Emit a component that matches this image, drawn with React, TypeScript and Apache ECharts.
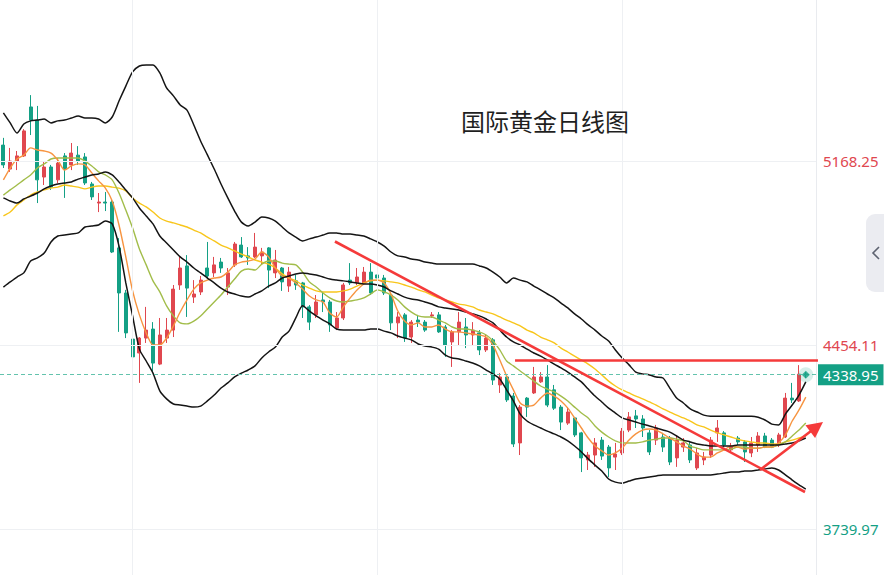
import React, { useEffect, useRef } from 'react';
import * as echarts from 'echarts';

// ---------- data ----------
const categories: string[] = Array.from({ length: 120 }, (_, i) => `D${i + 1}`);

const opens = [
  5230, 5137, 5168, 5188, 5378, 5327, 5106, 5145, 5095, 5188,
  5153, 5191, 5184, 5079, 5005, 5009, 5009, 4831, 4656, 4477,
  4423, 4481, 4516, 4380, 4481, 4512, 4687, 4761, 4640, 4660,
  4753, 4734, 4776, 4679, 4765, 4842, 4800, 4796, 4800, 4831,
  4734, 4753, 4683, 4703, 4695, 4602, 4571, 4629, 4621, 4520,
  4559, 4706, 4695, 4695, 4737, 4726, 4714, 4648, 4540, 4571,
  4485, 4551, 4543, 4567, 4571, 4524, 4466, 4505, 4524, 4493,
  4501, 4435, 4474, 4299, 4330, 4256, 4074, 4248, 4268, 4311,
  4330, 4280, 4213, 4151, 4171, 4113, 4008, 4027, 4085, 4058,
  4019, 4035, 4124, 4179, 4167, 4113, 4085, 4097, 4093, 4016,
  4058, 4066, 3977, 4008, 4027, 4113, 4113, 4047, 4093, 4078,
  4035, 4066, 4101, 4085, 4074, 4097, 4248, 4237, 4341,
];
const closes = [
  5153, 5168, 5188, 5285, 5327, 5095, 5145, 5067, 5160, 5137,
  5199, 5168, 5083, 5029, 5009, 5005, 4815, 4656, 4501, 4408,
  4481, 4512, 4384, 4493, 4512, 4671, 4753, 4675, 4652, 4706,
  4722, 4765, 4753, 4734, 4846, 4796, 4792, 4834, 4815, 4745,
  4784, 4699, 4737, 4687, 4602, 4543, 4621, 4621, 4532, 4559,
  4687, 4695, 4718, 4737, 4656, 4714, 4656, 4540, 4563, 4481,
  4543, 4543, 4512, 4571, 4505, 4454, 4505, 4543, 4493, 4512,
  4435, 4481, 4318, 4330, 4241, 4070, 4213, 4213, 4330, 4330,
  4221, 4209, 4155, 4194, 4105, 4016, 4027, 4074, 4023, 3977,
  4031, 4120, 4175, 4167, 4132, 4039, 4132, 4058, 4000, 4085,
  4074, 4008, 4035, 4019, 4085, 4132, 4066, 4058, 4078, 4039,
  4074, 4101, 4058, 4058, 4105, 4248, 4241, 4341, 4338.95,
];
const lows = [
  5141, 5126, 5133, 5184, 5269, 5005, 5075, 5056, 5083, 5025,
  5133, 5153, 5075, 5017, 4970, 4974, 4811, 4505, 4481, 4097,
  4307, 4462, 4349, 4376, 4462, 4485, 4668, 4563, 4617, 4648,
  4714, 4718, 4734, 4648, 4757, 4792, 4765, 4792, 4765, 4675,
  4714, 4664, 4660, 4668, 4559, 4512, 4559, 4582, 4505, 4512,
  4551, 4687, 4687, 4687, 4648, 4695, 4648, 4512, 4481, 4466,
  4462, 4524, 4505, 4559, 4501, 4408, 4369, 4454, 4442, 4454,
  4415, 4427, 4299, 4268, 4233, 4058, 4027, 4175, 4264, 4307,
  4213, 4202, 4124, 4144, 4097, 3961, 3969, 3981, 4008, 3942,
  3969, 4027, 4116, 4132, 4097, 4027, 4066, 4039, 3988, 3981,
  4039, 3996, 3969, 3988, 4016, 4078, 4058, 4035, 4066, 4000,
  4019, 4039, 4054, 4054, 4058, 4093, 4229, 4233, 4326,
];
const highs = [
  5258, 5219, 5207, 5292, 5424, 5382, 5164, 5153, 5180, 5199,
  5238, 5226, 5199, 5087, 5044, 5048, 5017, 4869, 4668, 4485,
  4485, 4602, 4543, 4559, 4559, 4687, 4796, 4803, 4706, 4722,
  4854, 4796, 4792, 4753, 4854, 4873, 4834, 4889, 4831, 4834,
  4823, 4757, 4757, 4726, 4699, 4609, 4648, 4656, 4629, 4582,
  4695, 4772, 4753, 4757, 4772, 4734, 4726, 4656, 4582, 4578,
  4551, 4571, 4551, 4582, 4582, 4532, 4512, 4582, 4559, 4543,
  4512, 4493, 4481, 4345, 4338, 4268, 4221, 4252, 4369, 4349,
  4376, 4299, 4221, 4213, 4175, 4117, 4039, 4093, 4097, 4066,
  4074, 4132, 4194, 4202, 4182, 4124, 4144, 4113, 4101, 4105,
  4093, 4078, 4054, 4039, 4097, 4163, 4120, 4074, 4101, 4085,
  4097, 4116, 4113, 4093, 4113, 4268, 4307, 4376, 4349,
];

const bollUpper = [
  5355, 5316, 5277, 5312, 5324, 5327, 5331, 5316, 5324, 5327,
  5335, 5343, 5335, 5335, 5331, 5316, 5339, 5401, 5459, 5514,
  5537, 5541, 5541, 5510, 5452, 5421, 5386, 5366, 5308, 5246,
  5192, 5137, 5079, 5025, 4974, 4931, 4916, 4931, 4951, 4947,
  4935, 4912, 4889, 4873, 4858, 4866, 4873, 4881, 4889, 4889,
  4885, 4885, 4881, 4877, 4866, 4854, 4838, 4815, 4800, 4796,
  4788, 4784, 4776, 4772, 4768, 4768, 4768, 4768, 4768, 4768,
  4761, 4753, 4737, 4718, 4695, 4714, 4706, 4699, 4683, 4668,
  4652, 4637, 4617, 4598, 4575, 4555, 4532, 4512, 4489, 4470,
  4435, 4404, 4377, 4349, 4342, 4338, 4330, 4326, 4287, 4248,
  4229, 4206, 4194, 4182, 4178, 4178, 4178, 4178, 4178, 4178,
  4178, 4174, 4163, 4147, 4144, 4186, 4221, 4260, 4311,
];
const bollMid = [
  5025, 5013, 5005, 5021, 5032, 5044, 5060, 5071, 5079, 5083,
  5087, 5098, 5106, 5114, 5118, 5126, 5114, 5087, 5056, 5025,
  4986, 4955, 4924, 4877, 4850, 4823, 4796, 4776, 4753, 4734,
  4714, 4695, 4675, 4660, 4652, 4644, 4640, 4652, 4664, 4683,
  4695, 4714, 4722, 4730, 4734, 4730, 4726, 4718, 4710, 4706,
  4703, 4699, 4695, 4691, 4691, 4687, 4679, 4664, 4652, 4640,
  4633, 4629, 4621, 4613, 4602, 4598, 4594, 4590, 4582, 4575,
  4567, 4555, 4540, 4512, 4485, 4466, 4454, 4438, 4423, 4411,
  4396, 4380, 4365, 4349, 4330, 4311, 4283, 4256, 4233, 4209,
  4190, 4171, 4163, 4155, 4147, 4140, 4132, 4124, 4116, 4101,
  4085, 4078, 4070, 4066, 4062, 4062, 4062, 4062, 4066, 4066,
  4066, 4066, 4066, 4066, 4066, 4070, 4074, 4082, 4093,
];
const bollLower = [
  4679, 4699, 4718, 4734, 4780, 4792, 4811, 4854, 4877, 4881,
  4885, 4889, 4912, 4916, 4920, 4935, 4924, 4838, 4695, 4567,
  4438, 4392, 4345, 4276, 4245, 4225, 4221, 4217, 4213, 4217,
  4237, 4260, 4287, 4307, 4330, 4345, 4357, 4373, 4404, 4427,
  4446, 4485, 4508, 4559, 4606, 4586, 4567, 4551, 4536, 4516,
  4512, 4512, 4512, 4512, 4516, 4516, 4508, 4501, 4489, 4481,
  4474, 4458, 4450, 4446, 4438, 4415, 4404, 4400, 4392, 4384,
  4373, 4357, 4341, 4322, 4280, 4237, 4186, 4159, 4144, 4132,
  4120, 4109, 4097, 4082, 4062, 4039, 4012, 3988, 3965, 3934,
  3922, 3918, 3926, 3934, 3938, 3942, 3946, 3950, 3950, 3950,
  3950, 3950, 3950, 3950, 3950, 3953, 3957, 3961, 3961, 3965,
  3965, 3969, 3973, 3977, 3969, 3950, 3930, 3911, 3895,
];
const ma5 = [
  5095, 5141, 5176, 5191, 5219, 5211, 5207, 5199, 5172, 5133,
  5149, 5157, 5153, 5122, 5091, 5063, 5013, 4920, 4796, 4664,
  4571, 4501, 4454, 4454, 4481, 4528, 4582, 4629, 4671, 4695,
  4706, 4714, 4718, 4737, 4765, 4776, 4780, 4788, 4815, 4796,
  4753, 4722, 4714, 4695, 4671, 4644, 4629, 4621, 4578, 4563,
  4602, 4637, 4668, 4691, 4706, 4706, 4695, 4652, 4586, 4547,
  4532, 4540, 4524, 4524, 4532, 4516, 4505, 4505, 4501, 4497,
  4493, 4485, 4454, 4396, 4334, 4280, 4229, 4217, 4221, 4248,
  4268, 4256, 4237, 4209, 4171, 4132, 4093, 4062, 4043, 4027,
  4035, 4054, 4085, 4109, 4124, 4128, 4124, 4109, 4093, 4078,
  4062, 4050, 4031, 4019, 4019, 4035, 4047, 4062, 4058, 4050,
  4054, 4054, 4058, 4058, 4074, 4105, 4159, 4202, 4252,
];
const ma10 = [
  5036, 5056, 5075, 5095, 5114, 5141, 5157, 5176, 5180, 5180,
  5180, 5180, 5168, 5149, 5126, 5114, 5095, 5044, 4978, 4908,
  4827, 4765, 4703, 4660, 4606, 4567, 4540, 4536, 4547, 4567,
  4594, 4621, 4648, 4679, 4710, 4741, 4749, 4745, 4768, 4780,
  4780, 4772, 4768, 4765, 4737, 4699, 4679, 4656, 4637, 4625,
  4621, 4625, 4629, 4637, 4652, 4668, 4660, 4648, 4629, 4602,
  4582, 4567, 4563, 4563, 4551, 4540, 4524, 4516, 4516, 4512,
  4505, 4493, 4470, 4435, 4392, 4373, 4353, 4334, 4314, 4295,
  4283, 4272, 4256, 4237, 4213, 4190, 4171, 4140, 4116, 4097,
  4082, 4074, 4074, 4074, 4078, 4085, 4089, 4093, 4093, 4089,
  4082, 4062, 4054, 4047, 4047, 4047, 4047, 4050, 4058, 4058,
  4054, 4054, 4058, 4058, 4066, 4078, 4101, 4124, 4151,
];
const ma20 = [
  4955, 4970, 4998, 5017, 5036, 5048, 5056, 5063, 5067, 5075,
  5071, 5067, 5060, 5067, 5071, 5071, 5067, 5063, 5052, 5025,
  5005, 4990, 4970, 4947, 4935, 4928, 4920, 4912, 4900, 4889,
  4873, 4858, 4842, 4831, 4819, 4807, 4796, 4784, 4776, 4768,
  4753, 4730, 4714, 4703, 4687, 4675, 4664, 4660, 4660, 4660,
  4664, 4671, 4683, 4695, 4703, 4706, 4703, 4699, 4695, 4687,
  4679, 4668, 4660, 4648, 4637, 4629, 4621, 4613, 4609, 4602,
  4590, 4582, 4575, 4563, 4551, 4540, 4528, 4512, 4501, 4485,
  4474, 4462, 4442, 4427, 4411, 4396, 4380, 4361, 4338, 4314,
  4295, 4280, 4268, 4256, 4245, 4233, 4221, 4206, 4194, 4182,
  4171, 4159, 4144, 4136, 4124, 4113, 4105, 4097, 4089, 4082,
  4078, 4074, 4074, 4070, 4070, 4078, 4085, 4093, 4101,
];

// price axis labels shown on the right
const tickValues = [5168.25, 4454.11, 3739.97];
const tickColors = ['#e0474f', '#e0474f', '#14a085'];
// category indices with vertical grid lines
const vGridIdx = [19, 55, 91];
// hand-drawn annotations: [categoryPosition, price]
const trendLine = [[48.76, 4855.8], [117.88, 3883.6]];
const resistanceLine = [[75.24, 4394], [119.79, 4394]];
const arrowLine = [[111.26, 3969], [119.59, 4136.6]];

const TITLE = '国际黄金日线图';
const Y_MIN = 3561.43;
const Y_MAX = 5793.12;
const UP = '#e0474f';
const DOWN = '#14a085';

function buildOption(): any {
  const candleData = opens.map((o, i) => [o, closes[i], lows[i], highs[i]]);
  const lastIdx = closes.length - 1;
  const lastPrice = closes[lastIdx];

  const mkLine = (name: string, data: number[], color: string, width: number, z: number) => ({
    name,
    type: 'line',
    xAxisIndex: 0,
    yAxisIndex: 0,
    data,
    symbol: 'none',
    showSymbol: false,
    smooth: 0.25,
    silent: true,
    z,
    lineStyle: { color, width },
  });

  return {
    animation: false,
    backgroundColor: '#ffffff',
    textStyle: { fontFamily: "'Noto Sans', 'Noto Sans CJK SC', sans-serif" },
    title: {
      text: TITLE,
      left: 461,
      top: 108,
      padding: 0,
      textStyle: {
        fontSize: 24,
        fontWeight: 'normal',
        color: '#1f1f1f',
        fontFamily: "'Noto Sans CJK SC', sans-serif",
      },
    },
    grid: [
      { left: 0, right: 68, top: 0, bottom: 0 },
      { left: 0, right: 0, top: 0, bottom: 0 },
    ],
    xAxis: [
      { type: 'category', gridIndex: 0, data: categories, boundaryGap: true, show: false },
      { type: 'value', gridIndex: 1, min: -0.5, max: 129.5, show: false },
    ],
    yAxis: [
      {
        type: 'value',
        gridIndex: 0,
        position: 'right',
        min: Y_MIN,
        max: Y_MAX,
        axisLine: { show: true, lineStyle: { color: '#e9ebef', width: 1 } },
        axisTick: { show: false },
        axisLabel: { show: false },
        splitLine: { show: false },
      },
      { type: 'value', gridIndex: 1, min: Y_MIN, max: Y_MAX, show: false, splitLine: { show: false } },
    ],
    graphic: [
      {
        type: 'rect',
        silent: true,
        shape: { x: 866, y: 214, width: 30, height: 78, r: [9, 0, 0, 9] },
        style: { fill: '#ebecf1' },
      },
      {
        type: 'polyline',
        silent: true,
        shape: { points: [[879, 247], [873, 253], [879, 259]] },
        style: { stroke: '#5d6270', lineWidth: 1.6, fill: null },
      },
    ],
    series: [
      // grid lines + price labels
      {
        type: 'line',
        xAxisIndex: 1,
        yAxisIndex: 1,
        data: [],
        silent: true,
        z: 0,
        markLine: {
          silent: true,
          symbol: ['none', 'none'],
          animation: false,
          emphasis: { disabled: true },
          lineStyle: { color: '#eef0f3', width: 1, type: 'solid' },
          label: { show: false },
          data: [
            ...vGridIdx.map((v) => ({ xAxis: v, label: { show: false } })),
            ...tickValues.map((v, i) => [
              {
                coord: [-0.5, v],
                label: {
                  show: true,
                  position: 'end',
                  distance: 7,
                  formatter: v.toFixed(2),
                  color: tickColors[i],
                  fontSize: 15,
                  fontFamily: "'Noto Sans', sans-serif",
                },
              },
              { coord: [119.5, v] },
            ]),
          ],
        },
      },
      {
        type: 'candlestick',
        xAxisIndex: 0,
        yAxisIndex: 0,
        data: candleData,
        barWidth: 3.4,
        silent: true,
        z: 2,
        itemStyle: {
          color: UP,
          color0: DOWN,
          borderColor: UP,
          borderColor0: DOWN,
          borderWidth: 1,
        },
      },
      mkLine('BOLL UP', bollUpper, '#141414', 1.5, 4),
      mkLine('BOLL MID', bollMid, '#141414', 1.5, 4),
      mkLine('BOLL LOW', bollLower, '#141414', 1.5, 4),
      mkLine('MA20', ma20, '#f8c61c', 1.4, 3),
      mkLine('MA10', ma10, '#a2bd4a', 1.4, 3),
      mkLine('MA5', ma5, '#f79440', 1.4, 3),
      // last price line + label
      {
        type: 'line',
        xAxisIndex: 1,
        yAxisIndex: 1,
        data: [],
        silent: true,
        z: 5,
        markLine: {
          silent: true,
          symbol: ['none', 'none'],
          emphasis: { disabled: true },
          lineStyle: { color: '#63c3ad', width: 1, type: [4, 3] },
          data: [
            [
              {
                coord: [-0.5, lastPrice],
                label: {
                  show: true,
                  position: 'end',
                  distance: 2,
                  formatter: lastPrice.toFixed(2),
                  color: '#ffffff',
                  backgroundColor: DOWN,
                  padding: [3, 5, 2, 5],
                  fontSize: 15,
                  lineHeight: 16,
                  fontFamily: "'Noto Sans', sans-serif",
                },
              },
              { coord: [119.5, lastPrice] },
            ],
          ],
        },
      },
      // red trend lines
      {
        type: 'line',
        xAxisIndex: 1,
        yAxisIndex: 1,
        data: [],
        silent: true,
        z: 8,
        markLine: {
          silent: true,
          symbol: ['none', 'none'],
          emphasis: { disabled: true },
          label: { show: false },
          lineStyle: { color: '#f53a3a', width: 2.6, type: 'solid' },
          data: [
            [{ coord: trendLine[0] }, { coord: trendLine[1] }],
            [{ coord: resistanceLine[0] }, { coord: resistanceLine[1] }],
          ],
        },
      },
      // red arrow
      {
        type: 'line',
        xAxisIndex: 1,
        yAxisIndex: 1,
        data: [],
        silent: true,
        z: 8,
        markLine: {
          silent: true,
          symbol: ['none', 'triangle'],
          symbolSize: 16,
          emphasis: { disabled: true },
          label: { show: false },
          lineStyle: { color: '#f53a3a', width: 2.6, type: 'solid' },
          itemStyle: { color: '#f53a3a' },
          data: [[{ coord: arrowLine[0] }, { coord: arrowLine[1] }]],
        },
      },
      // glowing last point
      {
        type: 'scatter',
        xAxisIndex: 0,
        yAxisIndex: 0,
        data: [[lastIdx, lastPrice]],
        symbolSize: 15,
        silent: true,
        z: 9,
        itemStyle: { color: 'rgba(20,160,133,0.22)' },
      },
      {
        type: 'scatter',
        xAxisIndex: 0,
        yAxisIndex: 0,
        data: [[lastIdx, lastPrice]],
        symbol: 'diamond',
        symbolSize: 8,
        silent: true,
        z: 10,
        itemStyle: { color: DOWN },
      },
    ],
  };
}

export default function App() {
  const ref = useRef<HTMLDivElement>(null);
  useEffect(() => {
    if (!ref.current) return;
    const chart = echarts.init(ref.current, null, { renderer: 'svg' });
    chart.setOption(buildOption());
    return () => {
      chart.dispose();
    };
  }, []);
  return (
    <div
      ref={ref}
      style={{ position: 'absolute', left: 0, top: 0, width: 884, height: 575, background: '#fff' }}
    />
  );
}
